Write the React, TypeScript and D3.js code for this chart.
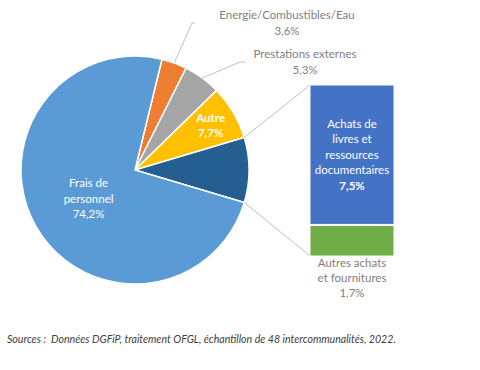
import React from 'react';
import * as d3 from 'd3';

// pie slices, clockwise from the orange one
const sliceNames = ['Energie/Combustibles/Eau', 'Prestations externes', 'Autre', 'Achats', 'Frais de personnel'];
const sliceValues = [3.6, 5.3, 7.7, 9.2, 74.2];
const sliceLabels = ['3,6%', '5,3%', '7,7%', '', '74,2%'];
const sliceColors = ['#ED7D31', '#A5A5A5', '#FFC000', '#255E91', '#5B9BD5'];

// breakdown of the "Achats" slice
const barNames = ['Achats de livres et ressources documentaires', 'Autres achats et fournitures'];
const barValues = [7.5, 1.7];
const barLabels = ['7,5%', '1,7%'];
const barColors = ['#4472C4', '#70AD47'];

const source = 'Sources :\u00A0 Données DGFiP, traitement OFGL, échantillon de 48 intercommunalités, 2022.';

const W = 480;
const H = 370;
const cx = 135;
const cy = 170;
const R = 114;
const font = 'Lato, "Open Sans", sans-serif';

export default function App() {
  const total = d3.sum(sliceValues);
  const achatsIdx = 3;
  const before = d3.sum(sliceValues.slice(0, achatsIdx));
  const toRad = (v: number) => (v / total) * 2 * Math.PI;
  // rotate so the detailed slice points to 3 o'clock
  const start = Math.PI / 2 - toRad(sliceValues[achatsIdx]) / 2 - toRad(before);

  const pie = d3.pie<number>().sort(null).value((d) => d).startAngle(start).endAngle(start + 2 * Math.PI);
  const arcs = pie(sliceValues);
  const arc = d3.arc<d3.PieArcDatum<number>>().innerRadius(0).outerRadius(R);
  const pt = (a: number, r: number) => [cx + r * Math.sin(a), cy - r * Math.cos(a)];

  // bar
  const barX = 310;
  const barW = 84;
  const y = d3.scaleLinear().domain([0, d3.sum(barValues)]).range([256, 85]);
  const stacks: { y0: number; y1: number }[] = [];
  let acc = d3.sum(barValues);
  barValues.forEach((v) => {
    stacks.push({ y0: y(acc), y1: y(acc - v) });
    acc -= v;
  });

  const a = arcs[achatsIdx];
  const p1 = pt(a.startAngle, R);
  const p2 = pt(a.endAngle, R);

  const mid = (d: d3.PieArcDatum<number>) => (d.startAngle + d.endAngle) / 2;
  const e0 = pt(mid(arcs[0]), R);
  const e1 = pt(mid(arcs[1]), R);
  const fp = pt(mid(arcs[4]), R * 0.5);
  const au = pt(mid(arcs[2]), R * 0.77);

  const grey = '#7F7F7F';

  return (
    <svg width={W} height={H} style={{ position: 'absolute', left: 0, top: 0, background: '#fff' }} fontFamily={font}>
      <g transform={`translate(${cx},${cy})`}>
        {arcs.map((d, i) => (
          <path key={i} d={arc(d) || ''} fill={sliceColors[i]} stroke="#fff" strokeWidth={1.5} />
        ))}
      </g>
      {/* connectors to the bar */}
      <line x1={p1[0]} y1={p1[1]} x2={barX} y2={y.range()[1]} stroke="#BFBFBF" strokeWidth={1} />
      <line x1={p2[0]} y1={p2[1]} x2={barX} y2={y.range()[0]} stroke="#BFBFBF" strokeWidth={1} />
      {stacks.map((s, i) => (
        <rect key={i} x={barX} y={s.y0 + (i > 0 ? 1 : 0)} width={barW} height={s.y1 - s.y0 - (i > 0 ? 1 : 0)} fill={barColors[i]} stroke="#fff" strokeWidth={1} />
      ))}
      {/* bar labels */}
      <text x={barX + barW / 2} textAnchor="middle" fill="#fff" fontSize={11.5}>
        {['Achats de', 'livres et', 'ressources', 'documentaires'].map((t, i) => (
          <tspan key={i} x={barX + barW / 2} y={128 + i * 15.3}>{t}</tspan>
        ))}
        <tspan x={barX + barW / 2} y={189.5} fontWeight="bold">{barLabels[0]}</tspan>
      </text>
      <text textAnchor="middle" fill={grey} fontSize={11.5}>
        {['Autres achats', 'et fournitures', barLabels[1]].map((t, i) => (
          <tspan key={i} x={barX + barW / 2} y={267 + i * 15}>{t}</tspan>
        ))}
      </text>
      {/* Frais de personnel */}
      <text textAnchor="middle" fill="#fff" fontSize={11.5}>
        {['Frais de', 'personnel', sliceLabels[4]].map((t, i) => (
          <tspan key={i} x={fp[0] + 3} y={fp[1] - 11 + i * 15.5}>{t}</tspan>
        ))}
      </text>
      {/* Autre */}
      <text textAnchor="middle" fill="#fff" fontSize={11.5} fontWeight="bold">
        <tspan x={au[0]} y={au[1] - 4}>{sliceNames[2]}</tspan>
        <tspan x={au[0]} y={au[1] + 11}>{sliceLabels[2]}</tspan>
      </text>
      {/* outside labels */}
      <polyline points={`${e0[0]},${e0[1]} 192,23 195,23`} fill="none" stroke="#BFBFBF" strokeWidth={1} />
      <text textAnchor="middle" fill={grey} fontSize={11.5}>
        <tspan x={287} y={19}>{sliceNames[0]}</tspan>
        <tspan x={287} y={35}>{sliceLabels[0]}</tspan>
      </text>
      <polyline points={`${e1[0]},${e1[1]} 240,62 245,62`} fill="none" stroke="#BFBFBF" strokeWidth={1} />
      <text textAnchor="middle" fill={grey} fontSize={11.5}>
        <tspan x={305} y={58}>{sliceNames[1]}</tspan>
        <tspan x={305} y={74}>{sliceLabels[1]}</tspan>
      </text>
      <text x={7} y={343} fontSize={10.6} fontStyle="italic" fill="#404040">{source}</text>
    </svg>
  );
}
